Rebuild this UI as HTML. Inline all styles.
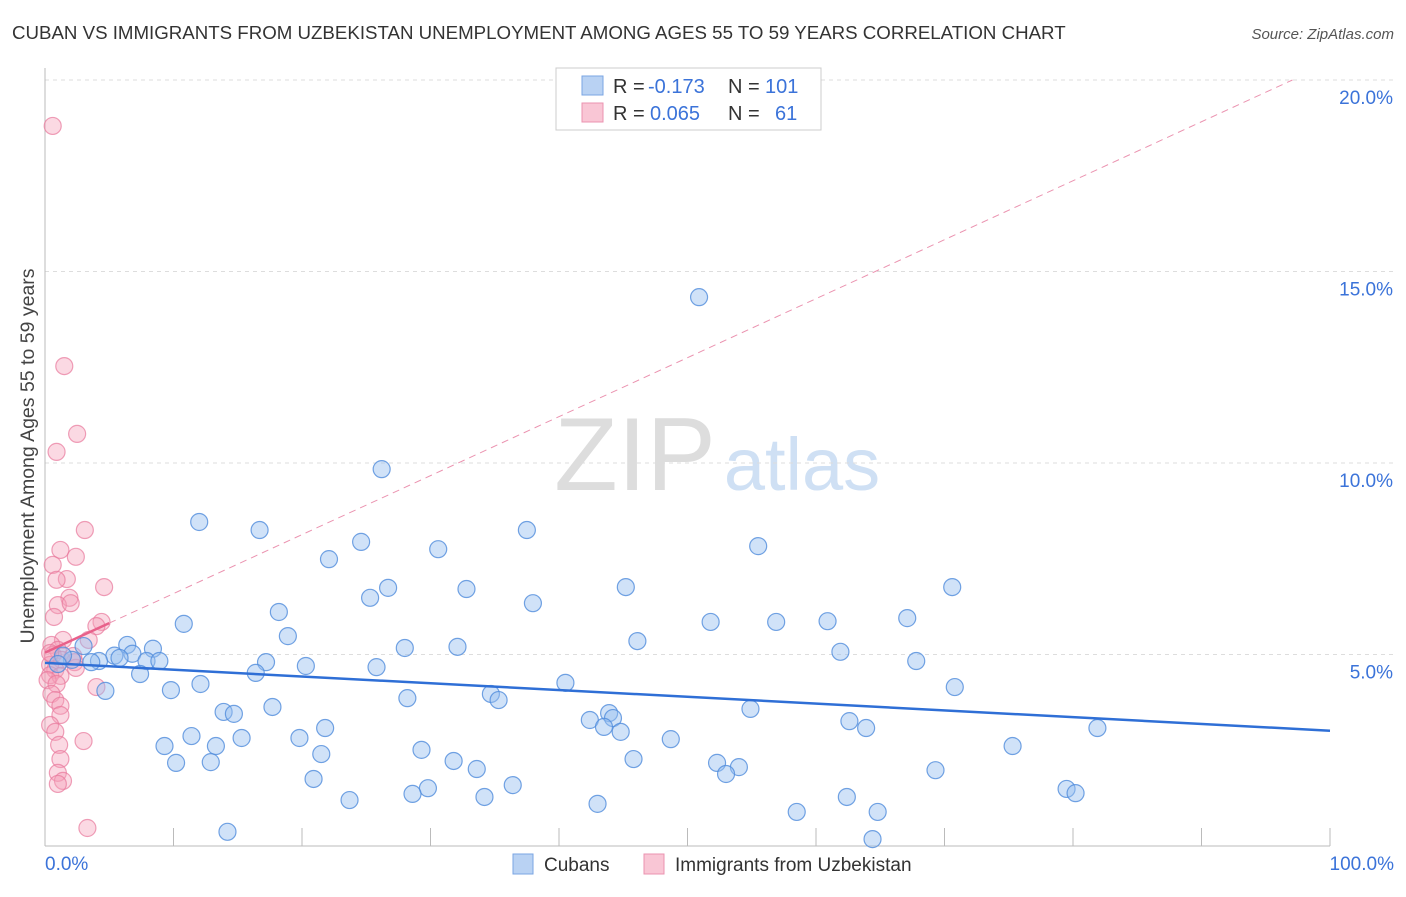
<!DOCTYPE html>
<html><head><meta charset="utf-8"><style>
body{margin:0;background:#fff;font-family:"Liberation Sans",sans-serif;}
svg text{font-family:"Liberation Sans",sans-serif;}
</style></head><body>
<svg id="chart" width="1406" height="892" xmlns="http://www.w3.org/2000/svg">
<text x="12" y="39" font-size="18.7" fill="#333">CUBAN VS IMMIGRANTS FROM UZBEKISTAN UNEMPLOYMENT AMONG AGES 55 TO 59 YEARS CORRELATION CHART</text>
<text x="1394" y="39" font-size="15" fill="#555" text-anchor="end" font-style="italic">Source: ZipAtlas.com</text>
<text x="34" y="456" font-size="19.5" fill="#444" text-anchor="middle" transform="rotate(-90 34 456)">Unemployment Among Ages 55 to 59 years</text>
<g><text x="635" y="490" font-size="104" fill="#ddd" text-anchor="middle" font-family="Liberation Serif">ZIP</text><text x="802" y="490" font-size="74" fill="#cfe0f4" text-anchor="middle">atlas</text></g>
<g id="grid"></g><g id="axes"></g><g id="pts"></g><g id="lines"></g>
<g>
<rect x="556" y="68" width="265" height="62" fill="#fff" stroke="#ccc"/>
<rect x="582" y="76" width="21" height="19" fill="#b9d2f3" stroke="#7aa5e3"/>
<rect x="582" y="103" width="21" height="19" fill="#f9c6d5" stroke="#eb93b0"/>
<text y="93" font-size="20" fill="#333"><tspan x="613">R =</tspan><tspan x="648" fill="#3b73d9">-0.173</tspan><tspan x="728">N =</tspan><tspan x="765" fill="#3b73d9">101</tspan></text>
<text y="120" font-size="20" fill="#333"><tspan x="613">R =</tspan><tspan x="650" fill="#3b73d9">0.065</tspan><tspan x="728">N =</tspan><tspan x="775" fill="#3b73d9">61</tspan></text>
</g>
<g>
<rect x="513" y="854" width="20" height="20" fill="#b9d2f3" stroke="#7aa5e3"/>
<text x="544" y="871" font-size="19" fill="#333">Cubans</text>
<rect x="644" y="854" width="20" height="20" fill="#f9c6d5" stroke="#eb93b0"/>
<text x="675" y="871" font-size="19" fill="#333">Immigrants from Uzbekistan</text>
</g>
</svg>
<script>
const yTicks=[5,10,15,20];
const yTickLabels=["5.0%","10.0%","15.0%","20.0%"];
const xTickLabels=["0.0%","100.0%"];
const cubanX=[50.9,26.2,12.0,16.7,37.5,24.6,30.6,55.5,22.1,26.7,32.8,45.2,70.6,25.3,37.97,18.2,10.8,51.8,56.9,60.9,67.1,18.9,46.1,6.4,8.4,5.4,6.8,28.0,32.1,61.9,3.0,5.8,4.2,7.9,8.9,17.2,20.3,25.8,67.8,3.6,2.1,7.4,16.4,12.1,9.8,4.7,40.5,70.8,28.2,34.7,35.3,17.7,54.9,13.9,14.7,43.9,44.2,42.4,43.5,44.8,62.6,63.9,81.9,21.8,11.4,15.3,19.8,48.7,9.3,13.3,75.3,29.3,21.5,10.2,12.9,31.8,45.8,52.3,54.0,53.0,33.6,69.3,20.9,36.4,29.8,28.6,34.2,79.5,80.2,23.7,62.4,43.0,58.5,64.8,14.2,64.4,1.4,1.0];
const cubanY=[14.33,9.84,8.46,8.25,8.25,7.94,7.75,7.83,7.49,6.74,6.71,6.76,6.76,6.48,6.34,6.11,5.80,5.85,5.85,5.87,5.95,5.48,5.35,5.25,5.15,4.97,5.02,5.17,5.20,5.07,5.22,4.91,4.83,4.83,4.83,4.80,4.70,4.67,4.83,4.80,4.86,4.49,4.52,4.23,4.07,4.05,4.26,4.15,3.86,3.97,3.81,3.63,3.58,3.50,3.45,3.47,3.34,3.29,3.11,2.98,3.26,3.08,3.08,3.08,2.87,2.82,2.82,2.79,2.61,2.61,2.61,2.51,2.40,2.17,2.19,2.22,2.27,2.17,2.06,1.88,2.01,1.98,1.75,1.59,1.51,1.36,1.28,1.49,1.38,1.20,1.28,1.10,0.89,0.89,0.37,0.18,4.97,4.75];
const uzbX=[0.6,1.5,2.5,0.9,3.1,1.2,2.4,0.6,1.7,0.9,4.6,1.9,1.0,2.0,0.7,4.4,4.0,1.4,3.4,0.5,1.0,0.6,1.3,2.3,0.4,0.8,0.4,1.2,0.2,0.9,4.0,0.5,0.8,1.2,1.2,0.4,0.8,3.0,1.1,1.2,1.0,1.4,1.0,3.3,2.4,2.2,0.4];
const uzbY=[18.8,12.53,10.76,10.29,8.25,7.73,7.55,7.34,6.97,6.95,6.76,6.48,6.29,6.34,5.98,5.85,5.74,5.38,5.38,5.25,5.12,4.99,4.86,4.80,4.73,4.60,4.46,4.44,4.33,4.23,4.15,3.97,3.81,3.66,3.42,3.16,2.98,2.74,2.64,2.27,1.91,1.70,1.62,0.47,4.65,4.96,5.04];
const cubanTrend=[4.78,3.01];
const uzbTrend=[5.05,0.154];
const NS="http://www.w3.org/2000/svg";
const X0=45,X1=1330,Y0=846,YS=38.3;
const sx=v=>X0+(X1-X0)*v/100, sy=v=>Y0-v*YS;
function mk(tag,attrs,parent){const e=document.createElementNS(NS,tag);for(const k in attrs)e.setAttribute(k,attrs[k]);document.getElementById(parent).appendChild(e);return e;}
yTicks.forEach((t,i)=>{
 const l=mk('line',{x1:X0,x2:1394,y1:sy(t),y2:sy(t),stroke:'#ddd','stroke-dasharray':'4,4'},'grid');
 
 
 const tx=mk('text',{x:1393,y:sy(t)+24,'font-size':19,fill:'#3b73d9','text-anchor':'end'},'grid');
 tx.textContent=yTickLabels[i];
 
 
});
const ax=mk('line',{x1:X0,x2:X0,y1:68,y2:Y0,stroke:'#bbb'},'axes');


const bx=mk('line',{x1:X0,x2:X1,y1:Y0,y2:Y0,stroke:'#bbb'},'axes');


for(let i=1;i<=10;i++){const t=mk('line',{x1:sx(i*10),x2:sx(i*10),y1:828,y2:Y0,stroke:'#bbb'},'axes');
 
 }
[[0,'start',45],[100,'end',1394]].forEach((d,i)=>{const t=mk('text',{x:d[2],y:870,'font-size':19,fill:'#3b73d9','text-anchor':d[1]},'axes');t.textContent=xTickLabels[i];
 
 });
uzbX.forEach((x,i)=>{const c=mk('circle',{cx:sx(x),cy:sy(uzbY[i]),r:8.5,fill:'rgba(244,160,185,0.4)',stroke:'rgba(232,120,155,0.7)','stroke-width':1.2},'pts');
 
 });
cubanX.forEach((x,i)=>{const c=mk('circle',{cx:sx(x),cy:sy(cubanY[i]),r:8.5,fill:'rgba(150,190,240,0.45)',stroke:'rgba(80,140,220,0.8)','stroke-width':1.2},'pts');
 
 });
const bl=mk('line',{x1:sx(0),y1:sy(cubanTrend[0]),x2:sx(100),y2:sy(cubanTrend[1]),stroke:'#2f6fd6','stroke-width':2.5},'lines');


const xe=(20-uzbTrend[0])/uzbTrend[1];
const pd=mk('line',{x1:sx(5),y1:sy(uzbTrend[0]+5*uzbTrend[1]),x2:sx(xe),y2:sy(20),stroke:'#eb93b0','stroke-width':1,'stroke-dasharray':'7,5'},'lines');


const ps=mk('line',{x1:sx(0),y1:sy(uzbTrend[0]),x2:sx(5),y2:sy(uzbTrend[0]+5*uzbTrend[1]),stroke:'#e8608a','stroke-width':2.5},'lines');


</script>
</body></html>
